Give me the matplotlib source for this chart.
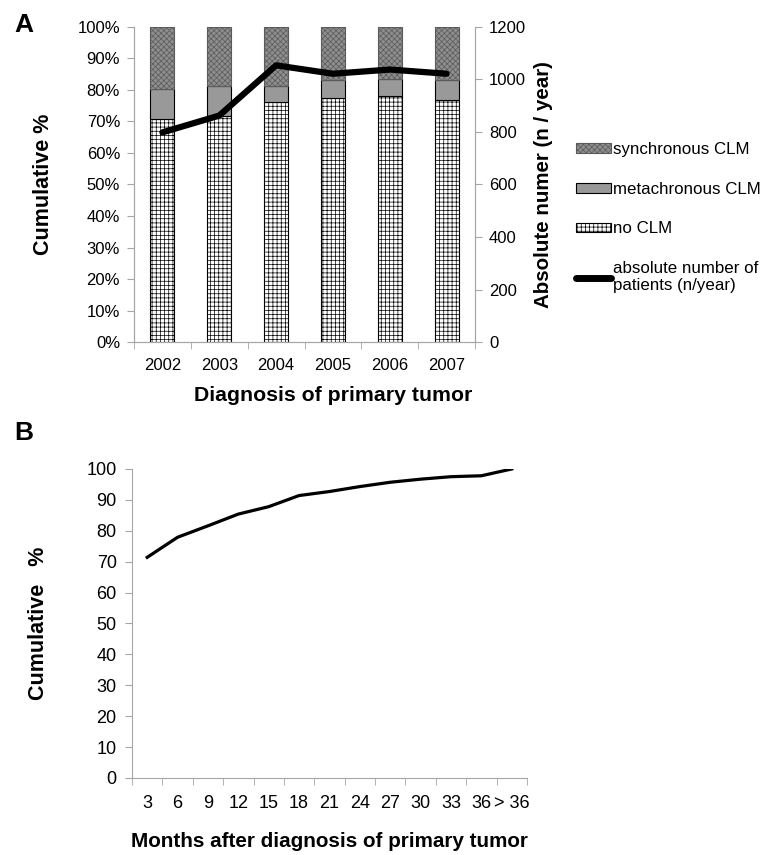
import numpy as np
import matplotlib
matplotlib.use('Agg')
import matplotlib.pyplot as plt
from matplotlib.patches import Patch
from matplotlib.lines import Line2D

plt.rcParams['font.family'] = ['Liberation Sans', 'DejaVu Sans']
plt.rcParams['hatch.linewidth'] = 0.5

# Panel A data
years = ['2002', '2003', '2004', '2005', '2006', '2007']
no_clm = [70.6, 71.6, 76.0, 77.4, 77.9, 76.8]
meta_clm = [9.7, 9.5, 5.1, 5.6, 5.6, 6.4]
sync_clm = [100 - a - b for a, b in zip(no_clm, meta_clm)]
patients = [798, 862, 1053, 1021, 1037, 1021]

# Panel B data
months = ['3', '6', '9', '12', '15', '18', '21', '24', '27', '30', '33', '36', '> 36']
cum_pct = [71.4, 77.9, 81.6, 85.4, 87.8, 91.4, 92.7, 94.3, 95.7, 96.7, 97.5, 97.8, 100]

grey = '#a6a6a6'
sync_fc = '#8e8e8e'
sync_hc = '#5a5a5a'
meta_fc = '#999999'

fig = plt.figure(figsize=(7.71, 8.55), dpi=100)

# ---- Panel A ----
ax = fig.add_axes([0.1738, 0.5997, 0.4423, 0.3691])
x = np.arange(len(years))
w = 0.42
ax.bar(x, no_clm, w, color='white', edgecolor='black', hatch='++++', linewidth=0.8)
ax.bar(x, meta_clm, w, bottom=no_clm, color=meta_fc, edgecolor='black', linewidth=0.8)
bot2 = [a + b for a, b in zip(no_clm, meta_clm)]
ax.bar(x, sync_clm, w, bottom=bot2, color=sync_fc, edgecolor=sync_hc, hatch='xxxxxx', linewidth=0.8)
ax.set_xlim(-0.5, len(years) - 0.5)
ax.set_ylim(0, 100)
ax.set_yticks(np.arange(0, 101, 10))
ax.set_yticklabels([f'{v}%' for v in range(0, 101, 10)])
ax.set_xticks(x)
ax.set_xticklabels(years)
ax.set_xticks(np.arange(-0.5, len(years)), minor=True)
ax.tick_params(axis='x', which='major', length=0, labelsize=12, pad=11)
ax.tick_params(axis='x', which='minor', length=5, color=grey)
ax.tick_params(axis='y', length=5, color=grey, labelsize=12, pad=5)
ax.spines['top'].set_visible(False)
for s in ['left', 'right', 'bottom']:
    ax.spines[s].set_color(grey)
ax.set_ylabel('Cumulative %', fontsize=15.5, fontweight='bold', labelpad=17)
ax.set_xlabel('Diagnosis of primary tumor', fontsize=15.3, fontweight='bold', labelpad=10)
ax.xaxis.label.set_x(0.585)

ax2 = ax.twinx()
ax2.plot(x, patients, color='black', linewidth=4.5, solid_capstyle='round')
ax2.set_ylim(0, 1200)
ax2.set_yticks(np.arange(0, 1201, 200))
ax2.tick_params(axis='y', length=5, color=grey, labelsize=12, pad=5)
ax2.spines['top'].set_visible(False)
for s in ['left', 'right', 'bottom']:
    ax2.spines[s].set_color(grey)
ax2.set_ylabel('Absolute numer (n / year)', fontsize=14.8, fontweight='bold', labelpad=6)

handles = [
    Patch(facecolor=sync_fc, edgecolor=sync_hc, hatch='xxxxxx', linewidth=0.8),
    Patch(facecolor=meta_fc, edgecolor='black', linewidth=0.8),
    Patch(facecolor='white', edgecolor='black', hatch='++++', linewidth=0.8),
    Line2D([0], [0], color='black', linewidth=5, solid_capstyle='round'),
]
labels = ['synchronous CLM', 'metachronous CLM', 'no CLM', 'absolute number of\npatients (n/year)']
fig.legend(handles, labels, loc='upper left', bbox_to_anchor=(0.738, 0.8415),
           frameon=False, fontsize=12.2, handlelength=2.05, handleheight=0.5,
           handletextpad=0.15, labelspacing=1.45, borderaxespad=0)

fig.text(0.018, 0.9626, 'A', fontsize=19, fontweight='bold', va='baseline')

# ---- Panel B ----
bx = fig.add_axes([0.1712, 0.0901, 0.5123, 0.3614])
xm = np.arange(len(months))
bx.plot(xm, cum_pct, color='black', linewidth=2.3)
bx.set_xlim(-0.5, len(months) - 0.5)
bx.set_ylim(0, 100)
bx.set_yticks(np.arange(0, 101, 10))
bx.set_xticks(xm)
bx.set_xticklabels(months)
bx.set_xticks(np.arange(-0.5, len(months)), minor=True)
bx.tick_params(axis='x', which='major', length=0, labelsize=13, pad=12)
bx.tick_params(axis='x', which='minor', length=5, color=grey)
bx.tick_params(axis='y', length=5, color=grey, labelsize=13, pad=6)
for s in ['top', 'right']:
    bx.spines[s].set_visible(False)
for s in ['left', 'bottom']:
    bx.spines[s].set_color(grey)
bx.set_ylabel('Cumulative   %', fontsize=15.5, fontweight='bold', labelpad=27)
bx.set_xlabel('Months after diagnosis of primary tumor', fontsize=14.9, fontweight='bold', labelpad=15)

fig.text(0.018, 0.4854, 'B', fontsize=19, fontweight='bold', va='baseline')

fig.savefig('out.png', dpi=100)
